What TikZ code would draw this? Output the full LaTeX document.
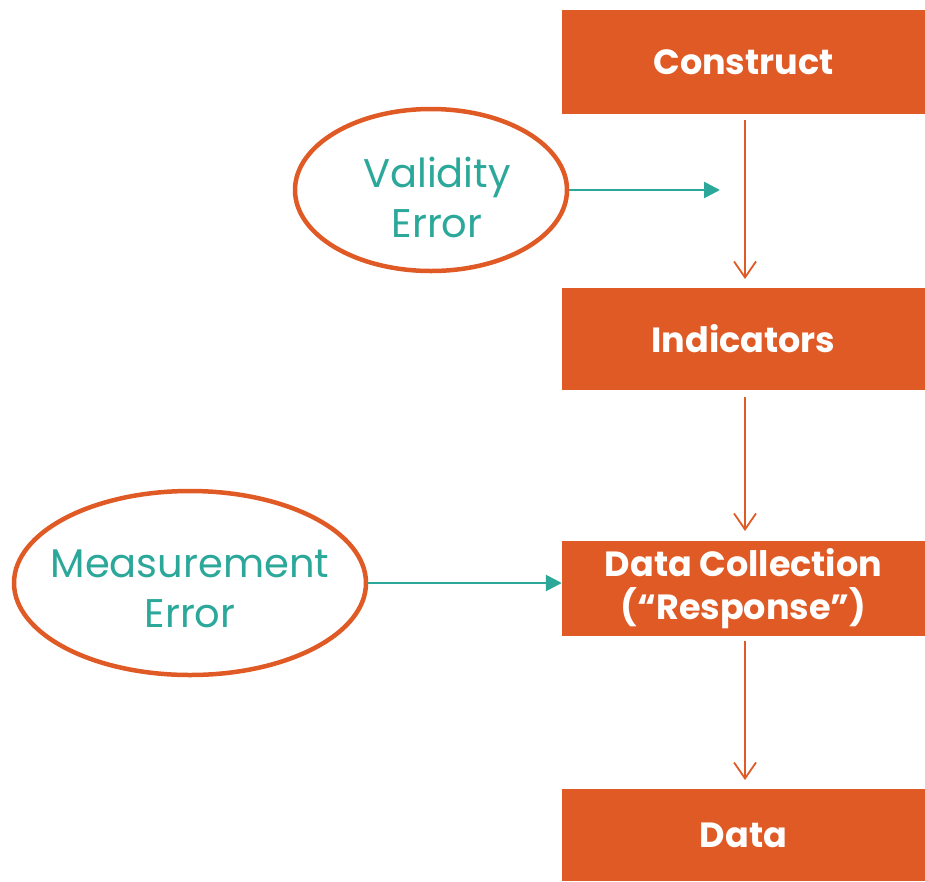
\documentclass[tikz,border=0pt]{standalone}
\usepackage{fontspec}
\setmainfont{Poppins}
\usetikzlibrary{arrows.meta,shapes.geometric}
\definecolor{rust}{RGB}{224,90,38}
\definecolor{teal}{RGB}{43,168,154}
\tikzset{
  stagebox/.style={fill=rust, draw=none, minimum width=363pt, inner sep=0pt,
    text=white, font=\fontsize{35}{43}\selectfont\bfseries, align=center},
  errbubble/.style={ellipse, draw=rust, line width=4.5pt, fill=white, inner sep=0pt},
  errtext/.style={text=teal, font=\fontsize{40}{50}\selectfont, align=center, inner sep=0pt},
  flow/.style={draw=rust, line width=1.8pt, -{Straight Barb[length=16pt,width=22pt,line width=1.8pt]}},
  feed/.style={draw=teal, line width=2.6pt, -{Triangle[length=16pt,width=16pt]}}
}
\begin{document}
\begin{tikzpicture}[x=1pt,y=-1pt]
\useasboundingbox (0,0) rectangle (925,881);
% stages of measurement
\node[stagebox, minimum height=104pt] (construct) at (743.5,62) {Construct};
\node[stagebox, minimum height=102pt] (indic) at (743.5,339) {Indicators};
\node[stagebox, minimum height=95pt] (collect) at (743.5,588.5) {Data Collection\\(“Response”)};
\node[stagebox, minimum height=92pt] (data) at (743.5,835) {Data};
% sources of error
\node[errbubble, minimum width=272pt, minimum height=162pt] (valid) at (431,190) {};
\node[errtext] (validtxt) at (437,197) {Validity\\Error};
\node[errbubble, minimum width=352pt, minimum height=184pt] (meas) at (190,583) {};
\node[errtext] (meastxt) at (190,589) {Measurement\\Error};
% flow between stages
\coordinate (c1) at (745,120);
\coordinate (c2) at (745,279);
\coordinate (c3) at (745,397);
\coordinate (c4) at (745,531);
\coordinate (c5) at (745,641);
\coordinate (c6) at (745,780);
\draw[flow] (c1) -- (c2);
\draw[flow] (c3) -- (c4);
\draw[flow] (c5) -- (c6);
% error feeds
\coordinate (vt) at (720,190);
\draw[feed] (valid.east) -- (vt);
\draw[feed] (meas.east) -- (collect.west |- meas.east);
\end{tikzpicture}
\end{document}
